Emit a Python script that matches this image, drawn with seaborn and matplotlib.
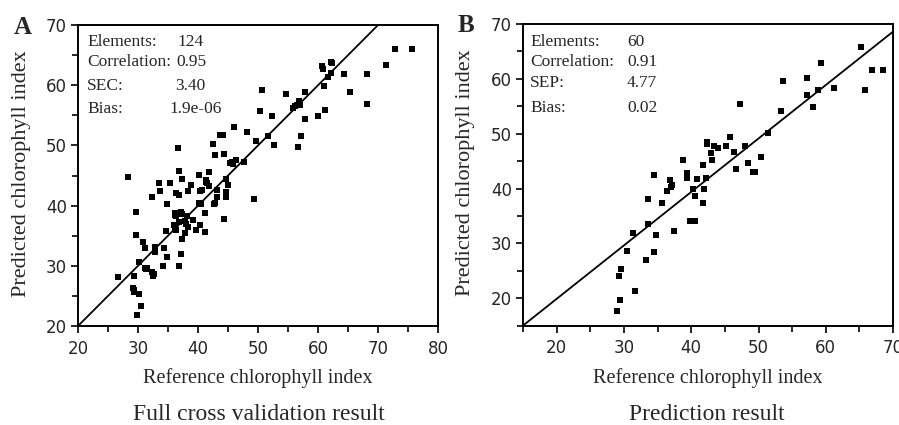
import numpy as np
import pandas as pd
import seaborn as sns
import matplotlib.pyplot as plt
from matplotlib.ticker import MultipleLocator

# full cross validation (panel A): reference vs predicted chlorophyll index
ref_a = [26.7, 28.3, 29.7, 29.6, 29.3, 29.1, 29.3, 30.1, 30.5, 29.9, 30.2, 30.9, 31.2, 31.1,
         31.5, 32.3, 32.5, 32.3, 32.9, 32.9, 33.5, 33.7, 34.2, 34.4, 34.7, 34.9, 34.9, 35.4,
         36.1, 36.1, 36.3, 36.4, 36.7, 36.8, 36.9, 36.4, 36.9, 37.1, 36.9, 37.1, 37.4, 37.4,
         37.8, 37.9, 38.2, 38.3, 38.4, 38.9, 39.1, 39.7, 40.1, 40.2, 40.3, 40.4, 40.6, 41.1,
         41.1, 41.3, 41.5, 41.8, 41.8, 42.5, 42.7, 42.9, 43.1, 43.2, 43.6, 44.1, 44.3, 44.4,
         44.6, 44.7, 44.7, 45.0, 45.3, 45.8, 46.0, 46.3, 47.6, 48.2, 49.3, 49.7, 50.6, 50.4,
         51.6, 52.3, 52.6, 54.7, 55.8, 56.2, 56.6, 56.8, 57.0, 57.1, 57.9, 57.9, 60.0, 60.6,
         60.8, 61.0, 61.1, 61.7, 62.1, 62.3, 64.3, 65.3, 68.2, 68.2, 71.4, 72.9, 75.7,
         36.2, 36.0, 37.3, 38.0, 41.4, 42.8, 45.6, 31.3, 29.4, 62.2, 56.5, 40.5, 32.6]
pred_a = [28.2, 44.8, 38.9, 35.1, 28.3, 26.3, 25.7, 25.3, 23.3, 21.8, 30.7, 34.0, 32.9, 29.7,
          29.7, 28.9, 28.3, 41.5, 33.1, 32.3, 43.8, 42.5, 30.0, 33.0, 35.8, 40.3, 31.4, 43.8,
          38.7, 36.5, 35.9, 42.1, 49.5, 45.8, 41.7, 38.3, 37.2, 38.9, 30.0, 32.0, 44.5, 34.4,
          35.4, 37.5, 38.2, 36.5, 42.5, 43.4, 37.6, 35.9, 45.1, 40.5, 42.5, 36.8, 42.6, 38.8,
          35.6, 44.3, 43.7, 45.6, 43.3, 50.3, 40.2, 48.4, 42.6, 41.5, 51.8, 51.8, 37.7, 48.5,
          44.5, 42.3, 41.5, 43.4, 47.0, 46.9, 53.1, 47.6, 47.3, 52.2, 41.1, 50.7, 59.2, 55.7,
          51.5, 54.9, 50.1, 58.5, 56.3, 56.5, 49.8, 57.4, 56.7, 51.5, 58.8, 54.4, 54.9, 63.2,
          62.7, 59.8, 55.9, 61.3, 62.0, 63.7, 61.9, 58.9, 61.9, 56.9, 63.4, 66.1, 66.0,
          38.5, 36.8, 38.6, 36.9, 44.0, 40.5, 47.2, 29.5, 26.0, 63.9, 56.8, 40.3, 28.6]

# prediction set (panel B)
ref_b = [29.0, 29.4, 29.2, 29.6, 30.4, 31.4, 31.7, 33.3, 33.6, 33.6, 34.4, 34.5, 34.8, 35.7,
         36.4, 36.8, 37.0, 37.2, 37.5, 38.8, 39.4, 39.3, 39.8, 40.2, 40.5, 40.5, 40.9, 41.7,
         41.7, 41.9, 42.2, 42.3, 42.3, 43.0, 43.1, 43.4, 44.0, 45.1, 45.8, 46.3, 46.6, 47.2,
         48.0, 48.5, 49.2, 50.4, 51.4, 53.3, 53.7, 57.2, 57.2, 58.1, 58.9, 59.3, 61.2, 65.2,
         65.9, 66.8, 68.5, 49.5]
pred_b = [17.7, 19.6, 24.0, 25.4, 28.6, 31.9, 21.3, 26.9, 38.0, 33.5, 28.4, 42.4, 31.5, 37.3,
          39.6, 41.5, 40.3, 40.7, 32.2, 45.2, 42.9, 42.0, 34.0, 40.0, 34.0, 38.6, 41.7, 37.3,
          44.3, 40.0, 42.0, 48.5, 48.1, 46.5, 45.2, 47.8, 47.4, 47.7, 49.4, 46.7, 43.5, 55.4,
          47.8, 44.7, 43.0, 45.7, 50.1, 54.2, 59.6, 60.1, 57.1, 54.8, 58.0, 62.9, 58.3, 65.8,
          57.9, 61.6, 61.6, 43.0]

stats_labels_a = ['Elements:', 'Correlation:', 'SEC:', 'Bias:']
stats_values_a = ['124', '0.95', '3.40', '1.9e-06']
stats_labels_b = ['Elements:', 'Correlation:', 'SEP:', 'Bias:']
stats_values_b = ['60', '0.91', '4.77', '0.02']

# fitted lines drawn in the panels
slope_a, intercept_a = 1.0, 0.0
slope_b, intercept_b = 0.975, 0.375

df_a = pd.DataFrame({'ref': ref_a, 'pred': pred_a})
df_b = pd.DataFrame({'ref': ref_b, 'pred': pred_b})

sns.set_style('ticks')
plt.rcParams['font.family'] = ['Liberation Serif', 'DejaVu Serif']

fig = plt.figure(figsize=(8.99, 4.25), dpi=100)
ax_a = fig.add_axes([0.0868, 0.233, 0.4004, 0.708])
ax_b = fig.add_axes([0.5818, 0.234, 0.4116, 0.7094])

TICK_FAMILY = 'DejaVu Sans'
TICK_SIZE = 12


def style_axes(ax, xlim, ylim, xticks, yticks):
    ax.set_xlim(*xlim)
    ax.set_ylim(*ylim)
    ax.set_xticks(xticks)
    ax.set_yticks(yticks)
    ax.xaxis.set_minor_locator(MultipleLocator(5))
    ax.yaxis.set_minor_locator(MultipleLocator(5))
    ax.tick_params(which='major', direction='out', length=5, width=1.2, color='black')
    ax.tick_params(which='minor', direction='out', length=4, width=1.2, color='black')
    ax.tick_params(axis='x', which='major', pad=5)
    ax.tick_params(axis='y', which='major', pad=3)
    for lab in ax.get_xticklabels() + ax.get_yticklabels():
        lab.set_fontfamily(TICK_FAMILY)
        lab.set_fontsize(TICK_SIZE)
    for sp in ax.spines.values():
        sp.set_visible(True)
        sp.set_linewidth(1.4)
        sp.set_color('black')
    ax.set_xlabel('Reference chlorophyll index', fontsize=14.5)
    ax.set_ylabel('Predicted chlorophyll index', fontsize=16)
    ax.xaxis.set_label_coords(0.5, -0.14)
    ax.yaxis.set_label_coords(-0.13, 0.507)


def draw_panel(ax, df, slope, intercept, labels, values, xl, xvs, ys):
    sns.scatterplot(data=df, x='ref', y='pred', ax=ax, marker='s', color='black',
                    s=24, edgecolor='black', linewidth=0)
    ax.axline((0, intercept), slope=slope, color='black', lw=1.3)
    for lab, val, xv, y in zip(labels, values, xvs, ys):
        ax.text(xl, y, lab, transform=ax.transAxes, fontsize=12.5, va='center', ha='left')
        ax.text(xv, y, val, transform=ax.transAxes, fontsize=12.5, va='center', ha='left')


draw_panel(ax_a, df_a, slope_a, intercept_a, stats_labels_a, stats_values_a,
           0.025, [0.275, 0.272, 0.27, 0.255], [0.944, 0.877, 0.797, 0.721])
style_axes(ax_a, (20, 80), (20, 70), [20, 30, 40, 50, 60, 70, 80], [20, 30, 40, 50, 60, 70])

draw_panel(ax_b, df_b, slope_b, intercept_b, stats_labels_b, stats_values_b,
           0.019, [0.281] * 4, [0.94, 0.874, 0.804, 0.721])
style_axes(ax_b, (15, 70), (15, 70), [20, 30, 40, 50, 60, 70], [20, 30, 40, 50, 60, 70])

fig.text(23 / 899, 1 - 28 / 425, 'A', fontsize=18, fontweight='bold', ha='center', va='center')
fig.text(466 / 899, 1 - 25 / 425, 'B', fontsize=18, fontweight='bold', ha='center', va='center')
fig.text(259 / 899, 1 - 414 / 425, 'Full cross validation result', fontsize=17,
         ha='center', va='center')
fig.text(707 / 899, 1 - 414 / 425, 'Prediction result', fontsize=17, ha='center', va='center')

fig.savefig('out.png', dpi=100)
